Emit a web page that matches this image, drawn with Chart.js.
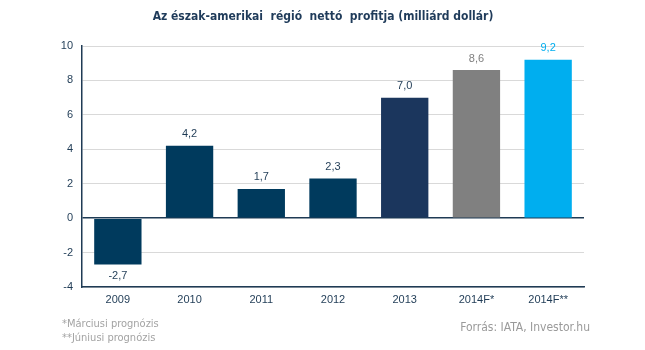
<!DOCTYPE html>
<html>
<head>
<meta charset="utf-8">
<script src="https://cdn.jsdelivr.net/npm/chart.js@4"></script>
<style>
  html, body { margin: 0; padding: 0; background: #fff; }
  #wrap { width: 645px; height: 350px; position: relative; }
</style>
</head>
<body>
<div id="wrap"><canvas id="chart" width="645" height="350"></canvas></div>
<script>
var years = ['2009', '2010', '2011', '2012', '2013', '2014F*', '2014F**'];
var profit = [-2.7, 4.2, 1.7, 2.3, 7.0, 8.6, 9.2];
var barColors = ['#003a5d', '#003a5d', '#003a5d', '#003a5d', '#1b365d', '#808080', '#00aeef'];
var labelColors = ['#1f3b55', '#1f3b55', '#1f3b55', '#1f3b55', '#1f3b55', '#7f7f7f', '#00aeef'];
var yTicks = [-4, -2, 0, 2, 4, 6, 8, 10];

var titleText = 'Az észak-amerikai  régió  nettó  profitja (milliárd dollár)';
var notes = ['*Márciusi prognózis', '**Júniusi prognózis'];
var sourceText = 'Forrás: IATA, Investor.hu';

// value labels + title and footnotes
var extras = {
    id: 'extras',
    afterDatasetsDraw: function (chart) {
        var ctx = chart.ctx;
        var meta = chart.getDatasetMeta(0);
        ctx.save();
        ctx.font = '11px "Liberation Sans", Arial, sans-serif';
        ctx.textAlign = 'center';
        meta.data.forEach(function (bar, i) {
            var v = profit[i];
            ctx.fillStyle = labelColors[i];
            var txt = v.toFixed(1).replace('.', ',');
            if (v >= 0) {
                ctx.textBaseline = 'bottom';
                ctx.fillText(txt, bar.x, bar.y - 6);
            } else {
                ctx.textBaseline = 'top';
                ctx.fillText(txt, bar.x, bar.y + 6);
            }
        });

        ctx.font = 'bold 12px "DejaVu Sans Condensed", "DejaVu Sans", sans-serif';
        ctx.fillStyle = '#1f3b5a';
        ctx.textBaseline = 'middle';
        ctx.fillText(titleText, 323, 17);

        ctx.font = '11px "DejaVu Sans Condensed", "DejaVu Sans", sans-serif';
        ctx.fillStyle = '#a3a3a3';
        ctx.textAlign = 'left';
        ctx.fillText(notes[0], 62, 324);
        ctx.fillText(notes[1], 62, 338);

        ctx.font = '12px "DejaVu Sans Condensed", "DejaVu Sans", sans-serif';
        ctx.fillStyle = '#9a9a9a';
        ctx.textAlign = 'right';
        ctx.fillText(sourceText, 590, 328);
        ctx.restore();
    }
};

new Chart(document.getElementById('chart'), {
    type: 'bar',
    data: {
        labels: years,
        datasets: [{
            data: profit,
            backgroundColor: barColors,
            borderWidth: 0,
            categoryPercentage: 0.66,
            barPercentage: 1.0
        }]
    },
    options: {
        responsive: false,
        animation: false,
        layout: { padding: { top: 46, right: 61, left: 0, bottom: 0 } },
        plugins: {
            legend: { display: false },
            tooltip: { enabled: false }
        },
        scales: {
            x: {
                grid: { display: false, drawTicks: false },
                border: { color: '#1f3b55', width: 1.5 },
                ticks: {
                    color: '#1f3b55',
                    font: { family: '"Liberation Sans", Arial, sans-serif', size: 11 },
                    padding: 6,
                    maxRotation: 0
                },
                afterFit: function (scale) { scale.height = 63; }
            },
            y: {
                min: -4,
                max: 10,
                afterBuildTicks: function (scale) {
                    scale.ticks = yTicks.map(function (v) { return { value: v }; });
                },
                grid: {
                    drawTicks: false,
                    color: function (c) { return c.tick.value === 0 ? '#1f3b55' : '#d9d9d9'; },
                    lineWidth: function (c) { return c.tick.value === 0 ? 1.5 : 1; }
                },
                border: { color: '#1f3b55', width: 1.5 },
                ticks: {
                    color: '#1f3b55',
                    font: { family: '"Liberation Sans", Arial, sans-serif', size: 11 },
                    padding: 9
                },
                afterFit: function (scale) { scale.width = 82; }
            }
        }
    },
    plugins: [extras]
});
</script>
</body>
</html>
